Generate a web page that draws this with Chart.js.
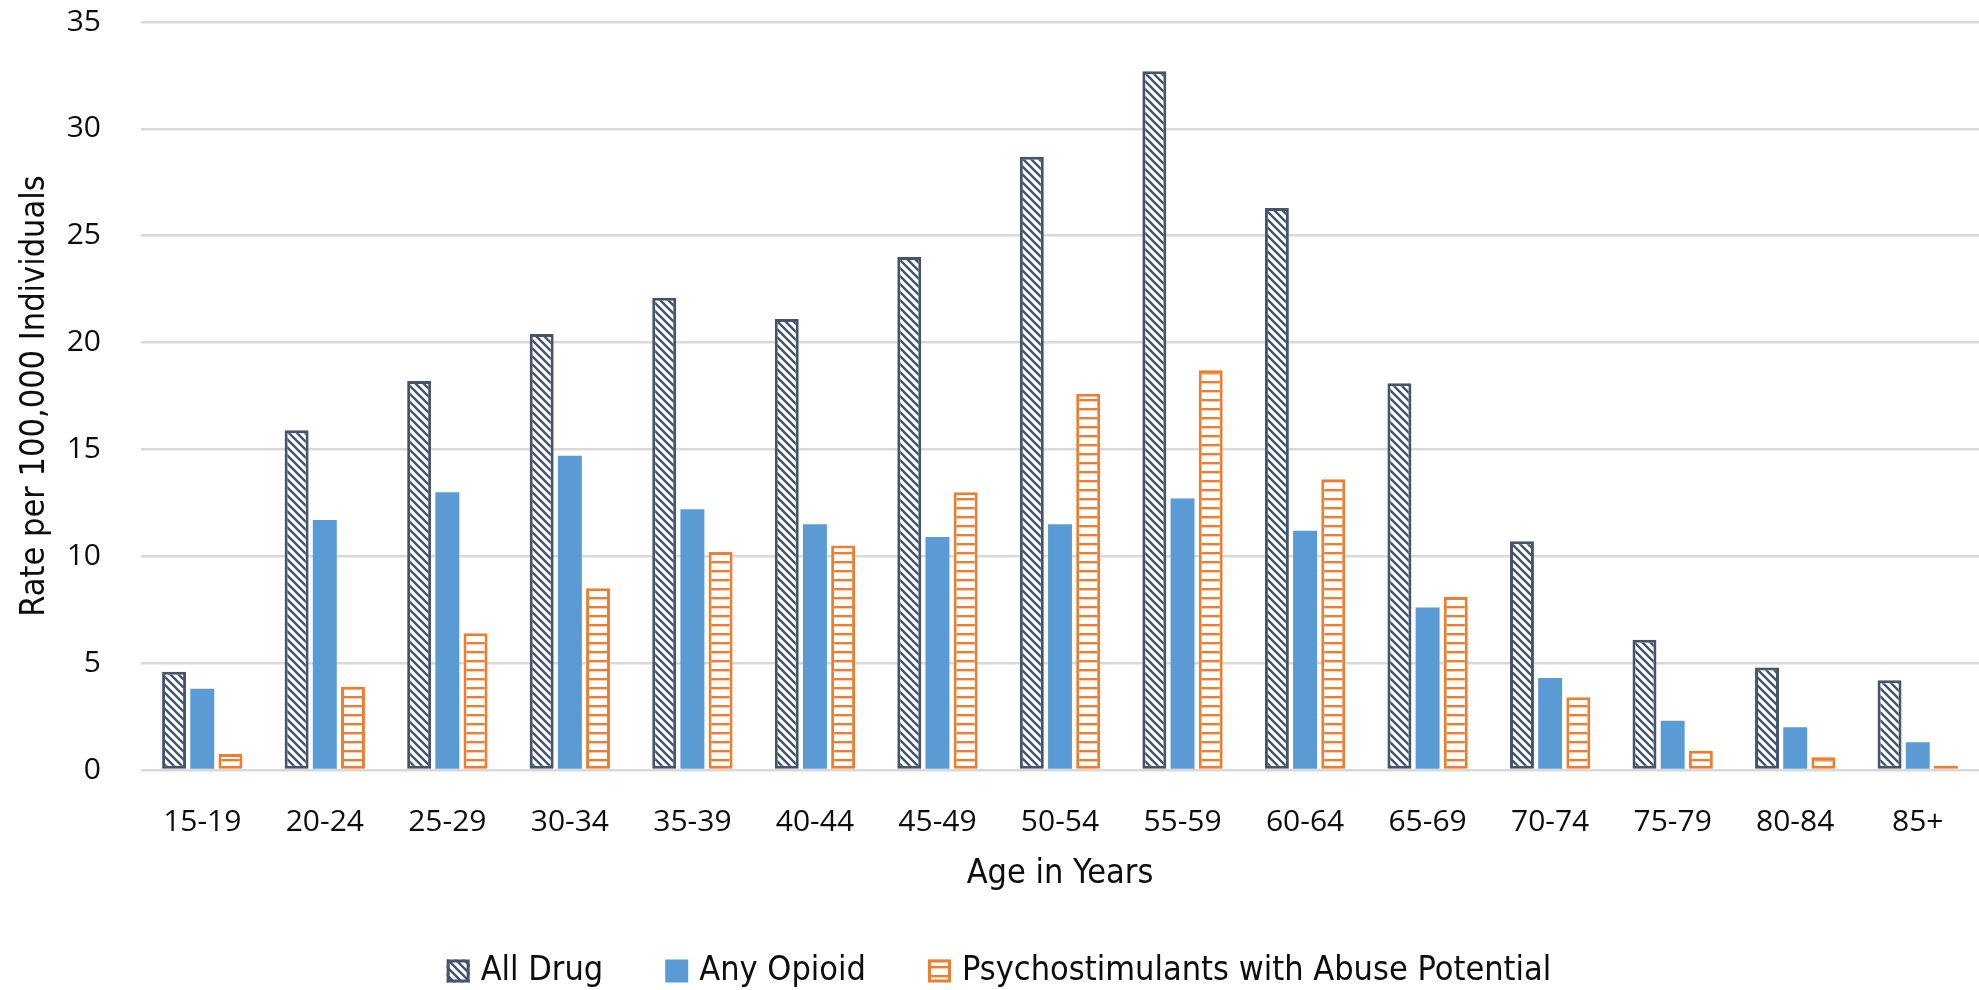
<!DOCTYPE html>
<html>
<head>
<meta charset="utf-8">
<script src="https://cdn.jsdelivr.net/npm/chart.js@4/dist/chart.umd.min.js"></script>
<style>
  html, body { margin: 0; padding: 0; background: #ffffff; }
  canvas { display: block; }
</style>
</head>
<body>
<canvas id="chart" width="1979" height="990"></canvas>
<script>
// Age bands on the x axis
const ageGroups = ['15-19', '20-24', '25-29', '30-34', '35-39', '40-44', '45-49',
                   '50-54', '55-59', '60-64', '65-69', '70-74', '75-79', '80-84', '85+'];

// Overdose death rates per 100,000 individuals
const allDrug          = [4.6, 15.9, 18.2, 20.4, 22.1, 21.1, 24.0, 28.7, 32.7, 26.3, 18.1, 10.7, 6.1, 4.8, 4.2];
const anyOpioid        = [3.8, 11.7, 13.0, 14.7, 12.2, 11.5, 10.9, 11.5, 12.7, 11.2, 7.6, 4.3, 2.3, 2.0, 1.3];
const psychostimulants = [0.75, 3.9, 6.4, 8.5, 10.2, 10.5, 13.0, 17.6, 18.7, 13.6, 8.1, 3.4, 0.9, 0.6, 0.2];

const seriesNames = ['All Drug', 'Any Opioid', 'Psychostimulants with Abuse Potential'];
const yAxisMax = 35;
const yAxisStep = 5;

const NAVY = '#44546A';
const BLUE = '#5B9BD5';
const ORANGE = '#ED7D31';
const GRID = '#D9D9D9';
const TEXT = '#0d0d0d';
const LABEL_FONT = "'DejaVu Sans Condensed', 'Liberation Sans Narrow', sans-serif";
const TICK_FONT = "'Open Sans', 'DejaVu Sans', sans-serif";

// Fixed page layout (pixels)
const PLOT = { left: 141, top: 22, right: 1979, bottom: 770 };
const X_TITLE_BASE = 891;     // bottom edge of the x-axis block
const LEGEND = { centerX: 999, centerY: 971, box: 23, textGap: 11, itemGap: 62, fontSize: 34 };

const canvas = document.getElementById('chart');
const ctx = canvas.getContext('2d');

// Downward diagonal hatch (navy stripes on white)
function diagonalHatch() {
  const s = 8;
  const t = document.createElement('canvas');
  t.width = s; t.height = s;
  const g = t.getContext('2d');
  g.fillStyle = '#ffffff';
  g.fillRect(0, 0, s, s);
  g.strokeStyle = NAVY;
  g.lineWidth = 2.4;
  g.beginPath();
  g.moveTo(-2, -2); g.lineTo(s + 2, s + 2);
  g.moveTo(-2, s - 2); g.lineTo(2, s + 2);
  g.moveTo(s - 2, -2); g.lineTo(s + 2, 2);
  g.stroke();
  return ctx.createPattern(t, 'repeat');
}

// Horizontal line pattern (orange rules on white)
function horizontalLines() {
  const s = 9;
  const t = document.createElement('canvas');
  t.width = s; t.height = s;
  const g = t.getContext('2d');
  g.fillStyle = '#ffffff';
  g.fillRect(0, 0, s, s);
  g.fillStyle = ORANGE;
  g.fillRect(0, 3, s, 2.4);
  return ctx.createPattern(t, 'repeat');
}

// Pins the plot area and both axes to the fixed layout above.
const fixedLayout = {
  id: 'fixedLayout',
  afterLayout(chart) {
    const area = chart.chartArea;
    area.left = PLOT.left; area.top = PLOT.top;
    area.right = PLOT.right; area.bottom = PLOT.bottom;
    area.width = PLOT.right - PLOT.left;
    area.height = PLOT.bottom - PLOT.top;

    const y = chart.scales.y;
    y.left = 0; y.right = PLOT.left; y.width = PLOT.left;
    y.top = PLOT.top; y.bottom = PLOT.bottom; y.height = area.height;
    y.configure();

    const x = chart.scales.x;
    x.left = PLOT.left; x.right = PLOT.right; x.width = area.width;
    x.top = PLOT.bottom; x.bottom = X_TITLE_BASE; x.height = X_TITLE_BASE - PLOT.bottom;
    x.configure();
  }
};

// Single-row legend under the axis title, using each dataset's own fill and border.
const seriesLegend = {
  id: 'seriesLegend',
  afterDraw(chart) {
    const c = chart.ctx;
    c.save();
    c.font = LEGEND.fontSize + 'px ' + LABEL_FONT;
    c.textBaseline = 'middle';
    c.textAlign = 'left';
    const items = chart.data.datasets.map(ds => ({
      text: ds.label,
      fill: ds.backgroundColor,
      stroke: ds.borderColor,
      lineWidth: ds.borderWidth,
      width: LEGEND.box + LEGEND.textGap + c.measureText(ds.label).width
    }));
    const total = items.reduce((s, it) => s + it.width, 0) + LEGEND.itemGap * (items.length - 1);
    let x = LEGEND.centerX - total / 2;
    const top = LEGEND.centerY - LEGEND.box / 2;
    items.forEach(it => {
      c.fillStyle = it.fill;
      c.fillRect(x, top, LEGEND.box, LEGEND.box);
      if (it.lineWidth > 0) {
        c.strokeStyle = it.stroke;
        c.lineWidth = it.lineWidth;
        const h = it.lineWidth / 2;
        c.strokeRect(x + h, top + h, LEGEND.box - it.lineWidth, LEGEND.box - it.lineWidth);
      }
      c.fillStyle = TEXT;
      c.fillText(it.text, x + LEGEND.box + LEGEND.textGap, LEGEND.centerY);
      x += it.width + LEGEND.itemGap;
    });
    c.restore();
  }
};

const chart = new Chart(ctx, {
  type: 'bar',
  data: {
    labels: ageGroups,
    datasets: [
      {
        label: seriesNames[0],
        data: allDrug,
        backgroundColor: diagonalHatch(),
        borderColor: NAVY,
        borderWidth: 3,
        borderSkipped: false
      },
      {
        label: seriesNames[1],
        data: anyOpioid,
        backgroundColor: BLUE,
        borderColor: BLUE,
        borderWidth: 0
      },
      {
        label: seriesNames[2],
        data: psychostimulants,
        backgroundColor: horizontalLines(),
        borderColor: ORANGE,
        borderWidth: 3,
        borderSkipped: false
      }
    ]
  },
  plugins: [fixedLayout, seriesLegend],
  options: {
    responsive: false,
    animation: false,
    devicePixelRatio: 1,
    datasets: {
      bar: { categoryPercentage: 0.69, barPercentage: 0.85 }
    },
    plugins: {
      tooltip: { enabled: false },
      legend: { display: false }
    },
    scales: {
      x: {
        grid: { display: false, drawTicks: false },
        border: { display: false },
        ticks: {
          color: TEXT,
          font: { family: TICK_FONT, size: 30 },
          padding: 34,
          minRotation: 0,
          maxRotation: 0
        },
        title: {
          display: true,
          text: 'Age in Years',
          color: TEXT,
          font: { family: LABEL_FONT, size: 34, lineHeight: 1.0 },
          padding: { top: 0, bottom: 0 }
        }
      },
      y: {
        min: 0,
        max: yAxisMax,
        grid: { color: GRID, lineWidth: 2.5, drawTicks: false },
        border: { display: false },
        ticks: {
          stepSize: yAxisStep,
          color: TEXT,
          font: { family: TICK_FONT, size: 30 },
          padding: 40
        },
        title: {
          display: true,
          text: 'Rate per 100,000 Individuals',
          color: TEXT,
          font: { family: LABEL_FONT, size: 34, lineHeight: 1.0 },
          padding: { top: 18, bottom: 0 }
        }
      }
    }
  }
});
</script>
</body>
</html>
